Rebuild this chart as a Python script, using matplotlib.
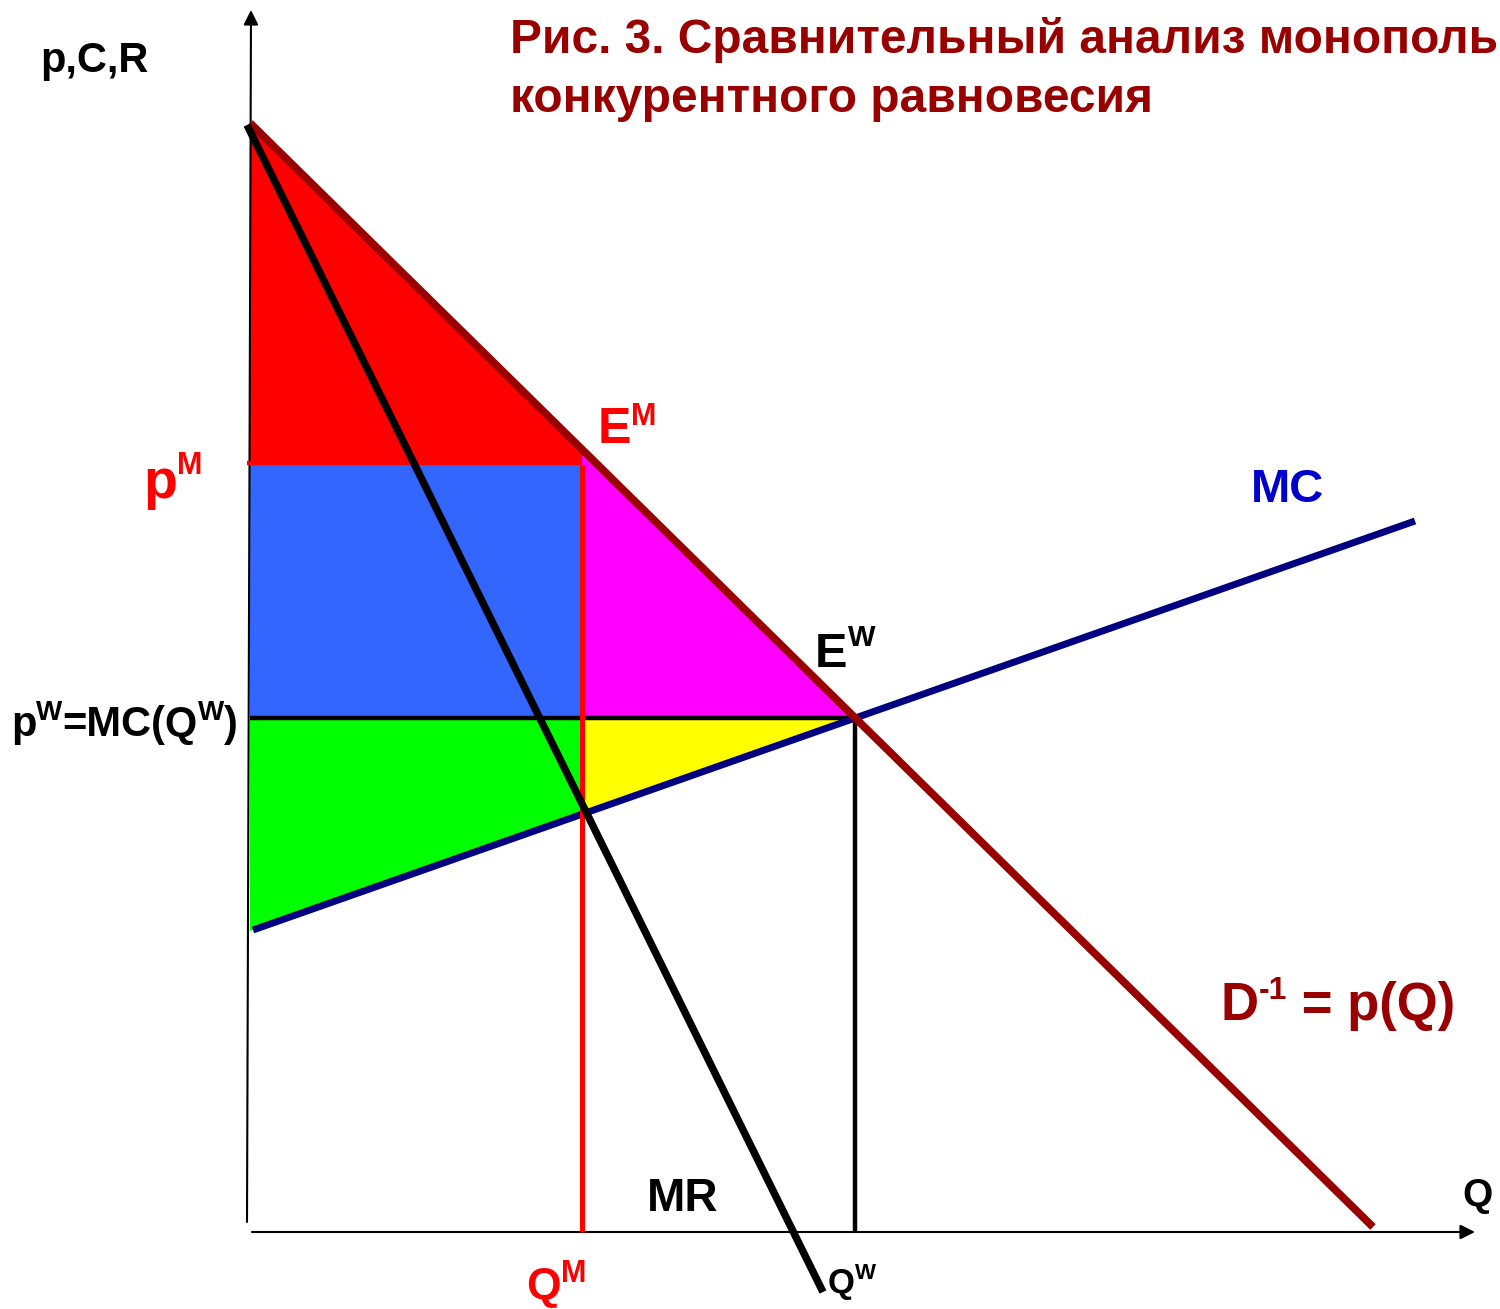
import numpy as np
import matplotlib
matplotlib.use("Agg")
import matplotlib.pyplot as plt
from matplotlib.patches import Polygon

# ---------------- data (Q, p units; origin at the axes corner) ----------------
demand_Q = [0, 1123]
demand_p = [1109, 5]
mr_Q = [-3, 573]
mr_p = [1107, -60]
mc_Q = [3, 1165]
mc_p = [302, 711]
Q_M, p_M = 332, 767      # monopoly output / price
Q_W, p_W = 605, 514      # competitive output / price
yaxis_Q = [-3, 1]
yaxis_p = [10, 1222]
xaxis_Q = [2, 1225]
xaxis_p = [0, 0]

W, H = 1500, 1309
FONT = ['Liberation Sans', 'DejaVu Sans']
DARKRED = '#990000'
RED = '#FF0000'
NAVY = '#000080'

fig = plt.figure(figsize=(W / 100, H / 100), dpi=100)
ax = fig.add_axes([0, 0, 1, 1])
ax.set_xlim(-250, W - 250)
ax.set_ylim(1232 - H, 1232)
ax.axis('off')


def line_at(q, xs, ys):
    s = (ys[1] - ys[0]) / (xs[1] - xs[0])
    return ys[0] + s * (q - xs[0])


d0 = line_at(0, demand_Q, demand_p)
dM = line_at(Q_M, demand_Q, demand_p)
mc_at_QM = line_at(Q_M, mc_Q, mc_p)
mc_at_0 = line_at(0, mc_Q, mc_p)

# areas
polys = [
    ([(0, d0), (0, p_M), (Q_M, p_M), (Q_M, dM)], '#FF0000'),
    ([(0, p_M), (Q_M, p_M), (Q_M, p_W), (0, p_W)], '#3366FF'),
    ([(Q_M, dM), (Q_M, p_W), (Q_W, p_W)], '#FF00FF'),
    ([(0, p_W), (Q_M, p_W), (Q_M, mc_at_QM), (0, mc_at_0)], '#00FF00'),
    ([(Q_M, p_W), (Q_W, p_W), (Q_M, mc_at_QM)], '#FFFF00'),
]
for pts, c in polys:
    ax.add_patch(Polygon(pts, closed=True, facecolor=c, edgecolor='none', zorder=1))

# axes with arrows
ax.annotate('', xy=(yaxis_Q[1], yaxis_p[1]), xytext=(yaxis_Q[0], yaxis_p[0]),
            arrowprops=dict(arrowstyle='-|>', color='black', lw=1.5,
                            mutation_scale=22, shrinkA=0, shrinkB=0), zorder=2)
ax.annotate('', xy=(xaxis_Q[1], xaxis_p[1]), xytext=(xaxis_Q[0], xaxis_p[0]),
            arrowprops=dict(arrowstyle='-|>', color='black', lw=1.5,
                            mutation_scale=22, shrinkA=0, shrinkB=0), zorder=2)

# guide lines
ax.plot([0, Q_W], [p_W, p_W], color='black', lw=3.2, solid_capstyle='butt', zorder=3)
ax.plot([-3, Q_M], [p_M + 2, p_M + 2], color=RED, lw=3.2, solid_capstyle='butt', zorder=3)
ax.plot([Q_W, Q_W], [p_W, 0], color='black', lw=3.2, solid_capstyle='butt', zorder=3)

# curves
ax.plot(mc_Q, mc_p, color=NAVY, lw=5, solid_capstyle='butt', zorder=4)
ax.plot([Q_M, Q_M], [p_M, 0], color=RED, lw=3.6, solid_capstyle='butt', zorder=5)
ax.plot(demand_Q, demand_p, color=DARKRED, lw=5.6, solid_capstyle='butt', zorder=6)
ax.plot(mr_Q, mr_p, color='black', lw=5.4, solid_capstyle='butt', zorder=7)

fig.canvas.draw()
r = fig.canvas.get_renderer()


def rich(x, y, parts):
    """x: left pixel, y: baseline pixel (from top)."""
    cx = x
    for s, size, dy, color in parts:
        t = fig.text(cx / W, 1 - (y - dy) / H, s, fontsize=size, color=color,
                     fontweight='bold', va='baseline', ha='left', family=FONT)
        bb = t.get_window_extent(renderer=r)
        cx += bb.width


# title
rich(510, 53, [('Рис. 3. Сравнительный анализ монополь', 34.5, 0, DARKRED)])
rich(510, 112, [('конкурентного равновесия', 34.5, 0, DARKRED)])

rich(40, 72, [('p,C,R', 30, 0, 'black')])
rich(143, 498, [('p', 40, 0, RED), ('M', 22, 24, RED)])
rich(11, 736, [('p', 30, 0, 'black'), ('W', 20, 16, 'black'),
               ('=MC(Q', 30, 0, 'black'), ('W', 20, 16, 'black'),
               (')', 30, 0, 'black')])
rich(598, 443, [('E', 36, 0, RED), ('M', 22, 18, RED)])
rich(815, 667, [('E', 35, 0, 'black'), ('W', 21, 21, 'black')])
rich(1251, 502, [('MC', 34, 0, '#0000CC')])
rich(1221, 1020, [('D', 38, 0, DARKRED), ('-1', 23, 21, DARKRED),
                  (' = p(Q)', 38, 0, DARKRED)])
rich(647, 1211, [('MR', 33, 0, 'black')])
rich(1462, 1206, [('Q', 28, 0, 'black')])
rich(526, 1299, [('Q', 32, 0, RED), ('M', 22, 17, RED)])
rich(828, 1293, [('Q', 25, 0, 'black'), ('W', 16, 14, 'black')])

fig.savefig('out.png', dpi=100)
